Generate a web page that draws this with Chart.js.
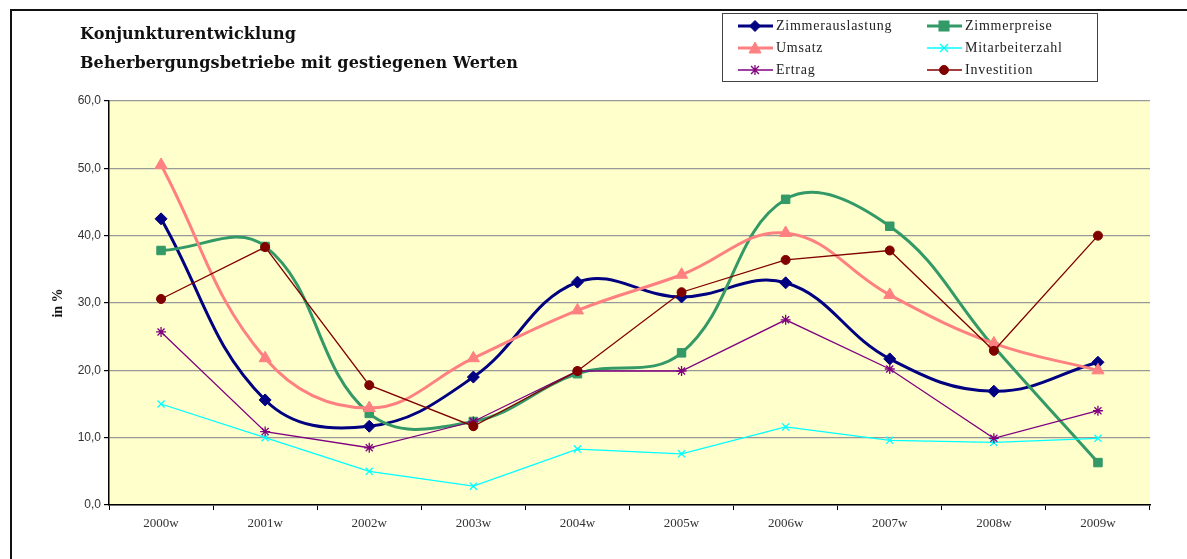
<!DOCTYPE html>
<html>
<head>
<meta charset="utf-8">
<script src="https://cdn.jsdelivr.net/npm/chart.js@4.4.1/dist/chart.umd.min.js"></script>
<style>
  body { margin: 0; background: #fff; }
  #wrap { position: relative; width: 1187px; height: 559px; overflow: hidden; }
  #frame { position: absolute; left: 10px; top: 9px; width: 1200px; height: 600px;
           border-top: 2px solid #111; border-left: 2px solid #111; }
  #title { position: absolute; left: 80px; top: 19px; font: bold 16px "DejaVu Serif", serif;
           line-height: 29px; letter-spacing: 0.1px; color: #111; }
  #legend { position: absolute; left: 722px; top: 13px; width: 374px; height: 67px;
            border: 1px solid #444; background: #fff; }
  .item { position: absolute; height: 20px; display: flex; align-items: center;
          font: 14px "Liberation Serif", serif; color: #222; letter-spacing: 0.75px; }
  .item svg { margin-right: 3px; }
  canvas { position: absolute; left: 0; top: 0; }
</style>
</head>
<body>
<div id="wrap">
  <canvas id="chart" width="1187" height="559"></canvas>
  <div id="frame"></div>
  <div id="title">Konjunkturentwicklung<br>Beherbergungsbetriebe mit gestiegenen Werten</div>
  <div id="legend"></div>
</div>
<script>
const categories = ['2000w', '2001w', '2002w', '2003w', '2004w', '2005w', '2006w', '2007w', '2008w', '2009w']

const zimmerauslastung = [42.5, 15.6, 11.7, 19.0, 33.1, 30.9, 33.0, 21.7, 16.9, 21.2]
const zimmerpreise     = [37.8, 38.4, 13.6, 12.4, 19.5, 22.6, 45.4, 41.4, 23.5, 6.3]
const umsatz           = [50.5, 21.8, 14.4, 21.8, 28.9, 34.2, 40.4, 31.2, 24.0, 20.0]
const mitarbeiterzahl  = [15.0, 10.0, 5.0, 2.8, 8.3, 7.6, 11.6, 9.6, 9.3, 9.9]
const ertrag           = [25.7, 10.9, 8.5, 12.4, 19.9, 19.9, 27.5, 20.2, 9.9, 14.0]
const investition      = [30.6, 38.3, 17.8, 11.7, 19.9, 31.6, 36.4, 37.8, 22.9, 40.0]

const yTicks = [0, 10, 20, 30, 40, 50, 60]

// label, data, colour, marker, width, radius, smooth
const series = [
  ['Zimmerauslastung', zimmerauslastung, '#000080', 'rectRot', 3, 6, true],
  ['Zimmerpreise', zimmerpreise, '#339966', 'rect', 3, 6, true],
  ['Umsatz', umsatz, '#FF8080', 'triangle', 3, 7, true],
  ['Mitarbeiterzahl', mitarbeiterzahl, '#00FFFF', 'crossRot', 1.3, 5, false],
  ['Ertrag', ertrag, '#800080', 'star', 1.3, 5, false],
  ['Investition', investition, '#800000', 'circle', 1.3, 4.5, false]
]

const datasets = series.map((s, i) => ({
  label: s[0],
  data: s[1],
  borderColor: s[2],
  backgroundColor: s[2],
  pointBackgroundColor: s[2],
  pointBorderColor: s[2],
  pointStyle: s[3],
  borderWidth: s[4],
  pointRadius: s[5],
  pointBorderWidth: s[3] === 'crossRot' || s[3] === 'star' ? 1.3 : 1,
  tension: s[6] ? 0.4 : 0,
  order: series.length - i,
  clip: false
}))

const plotBackground = {
  id: 'plotBackground',
  beforeDraw(chart) {
    const a = chart.chartArea
    const ctx = chart.ctx
    ctx.save()
    ctx.fillStyle = '#FFFFCC'
    ctx.fillRect(a.left, a.top, a.right - a.left, a.bottom - a.top)
    ctx.restore()
  }
}

new Chart(document.getElementById('chart'), {
  type: 'line',
  data: { labels: categories, datasets: datasets },
  plugins: [plotBackground],
  options: {
    responsive: false,
    animation: false,
    layout: { padding: { left: 46, top: 101, right: 37, bottom: 19 } },
    plugins: { legend: { display: false }, tooltip: { enabled: false } },
    scales: {
      x: {
        offset: true,
        afterFit(scale) { scale.height = 35 },
        grid: { offset: true, drawOnChartArea: false, drawTicks: true, tickLength: 5, tickColor: '#000' },
        border: { color: '#000', width: 1.5 },
        ticks: { color: '#333', padding: 6, maxRotation: 0, font: { family: 'Liberation Serif', size: 13 } }
      },
      y: {
        min: 0,
        max: 60,
        afterFit(scale) { scale.width = 63 },
        afterBuildTicks(scale) { scale.ticks = yTicks.map(v => ({ value: v })) },
        grid: { color: '#999', lineWidth: 1.2, tickLength: 5, tickColor: '#000' },
        border: { color: '#000', width: 1.5 },
        ticks: {
          color: '#333', padding: 3,
          font: { family: 'Liberation Sans', size: 12 },
          callback: v => v.toFixed(1).replace('.', ',')
        },
        title: { display: true, text: 'in %', color: '#111', font: { family: 'Liberation Serif', size: 14, weight: 'bold' } }
      }
    }
  }
})

// legend in a box, two columns
function markerSvg(style, color) {
  const c = 'fill="' + color + '" stroke="' + color + '"'
  switch (style) {
    case 'rectRot': return '<polygon points="17,0.5 22.5,6 17,11.5 11.5,6" ' + c + '/>'
    case 'rect': return '<rect x="12" y="1" width="10" height="10" ' + c + '/>'
    case 'triangle': return '<polygon points="17,0 23,11 11,11" ' + c + '/>'
    case 'crossRot': return '<path d="M13,2 L21,10 M21,2 L13,10" stroke="' + color + '" stroke-width="1.3"/>'
    case 'star': return '<path d="M13,2 L21,10 M21,2 L13,10 M17,1 L17,11" stroke="' + color + '" stroke-width="1.3"/>'
    default: return '<circle cx="17" cy="6" r="4.5" ' + c + '/>'
  }
}

const legend = document.getElementById('legend')
series.forEach((s, i) => {
  const col = i % 2
  const row = Math.floor(i / 2)
  const el = document.createElement('div')
  el.className = 'item'
  el.style.left = (15 + col * 189) + 'px'
  el.style.top = (2 + row * 22) + 'px'
  el.innerHTML = '<svg width="35" height="12"><line x1="0" y1="6" x2="35" y2="6" stroke="' + s[2] +
    '" stroke-width="' + (s[4] > 2 ? 3 : 1.5) + '"/>' + markerSvg(s[3], s[2]) + '</svg>' + s[0]
  legend.appendChild(el)
})
</script>
</body>
</html>
